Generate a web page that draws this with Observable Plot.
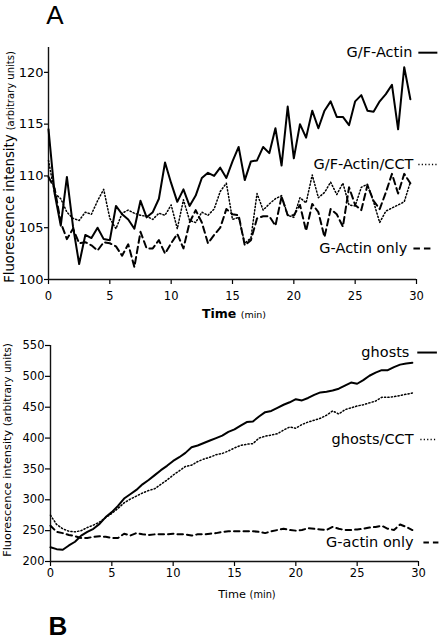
<!DOCTYPE html>
<html>
<head>
<meta charset="utf-8">
<script src="https://cdn.jsdelivr.net/npm/d3@7"></script>
<script src="https://cdn.jsdelivr.net/npm/@observablehq/plot@0.6"></script>
<style>
html,body{margin:0;padding:0;background:#fff;}
#chart{width:440px;}
#chart svg{display:block;}
</style>
</head>
<body>
<div id="chart"></div>
<script>
// ---- data ----
const timesMin = [0,0.5,1,1.5,2,2.5,3,3.5,4,4.5,5,5.5,6,6.5,7,7.5,8,8.5,9,9.5,
  10,10.5,11,11.5,12,12.5,13,13.5,14,14.5,15,15.5,16,16.5,17,17.5,18,18.5,19,19.5,
  20,20.5,21,21.5,22,22.5,23,23.5,24,24.5,25,25.5,26,26.5,27,27.5,28,28.5,29,29.5];
const xTicks = [0,5,10,15,20,25,30];
const yTicksA = [100,105,110,115,120];
const yTicksB = [200,250,300,350,400,450,500,550];
const namesA = ["G/F-Actin","G/F-Actin/CCT","G-Actin only"];
const namesB = ["ghosts","ghosts/CCT","G-actin only"];

// Panel A
const gfActin = [114.5,108.3,105.2,109.9,105.1,101.5,104.3,104.0,105.0,103.9,
  103.8,107.1,106.3,105.8,104.9,107.6,106.0,106.5,107.8,111.3,
  109.3,107.5,108.7,107.1,108.1,109.8,110.3,110.0,110.8,109.8,
  111.4,112.8,109.6,111.4,111.5,112.8,112.2,114.6,111.0,116.7,
  111.7,115.0,113.7,116.3,114.6,116.3,117.2,115.7,115.7,114.9,
  117.2,117.8,116.3,116.2,117.2,117.9,118.8,114.5,120.5,117.4];
const gfActinCCT = [111.5,108.3,107.8,106.5,105.9,105.7,106.5,106.3,107.6,108.7,
  105.9,104.9,106.4,106.7,106.4,106.2,106.1,105.8,106.4,106.2,
  107.2,104.9,107.7,105.7,105.5,106.5,106.2,106.8,108.5,109.3,
  105.8,106.0,103.5,104.0,108.3,106.7,107.3,107.8,108.1,106.2,
  106.0,107.9,107.4,110.1,107.9,108.4,109.4,108.2,109.3,107.2,
  107.1,108.9,109.2,107.5,105.5,106.6,106.9,107.2,107.5,109.4];
const gActinA = [109.9,108.8,105.5,103.9,104.9,103.5,103.6,103.3,102.8,103.6,
  103.5,103.2,102.3,103.4,101.2,104.6,103.0,103.0,103.8,102.5,
  103.5,104.4,103.0,105.5,106.7,105.5,103.5,104.3,105.0,106.8,
  106.3,106.2,103.3,103.8,105.9,106.1,106.1,105.2,108.0,106.2,
  106.2,107.2,104.7,107.3,106.5,104.1,106.8,106.3,105.1,108.9,
  107.2,106.7,109.1,107.6,106.8,108.4,110.2,108.3,110.2,109.3];

// Panel B
const ghosts = [223,220,219,226,232,242,248,253,261,272,
  280,290,302,309,316,325,332,340,348,355,
  363,369,376,385,388,392,396,400,404,410,
  414,420,426,427,435,442,444,449,454,458,
  463,461,465,470,474,475,477,480,485,490,
  488,494,501,506,510,510,515,519,521,522];
const ghostsCCT = [275,260,253,249,248,250,255,259,264,271,
  278,286,295,301,306,311,315,318,325,332,
  340,347,354,356,362,366,369,373,375,379,
  384,388,390,391,400,403,405,407,413,418,
  416,422,426,429,432,437,444,439,446,449,
  452,454,457,460,466,466,467,469,471,473];
const gActinB = [258,248,246,243,241,238,238,240,241,240,
  238,238,245,242,246,244,243,244,244,244,
  245,244,244,242,244,244,245,246,248,249,
  249,249,249,249,248,246,249,251,253,251,
  250,251,254,253,252,251,256,253,251,251,
  252,253,255,256,258,253,251,260,256,251];

// ---- styles ----
const FONT = "'DejaVu Sans', Verdana, sans-serif";
const SOLID = {strokeWidth: 2};
const DOTTED = {strokeWidth: 1.5, strokeDasharray: "1.2,2.2"};
const DASHED = {strokeWidth: 2, strokeDasharray: "6.5,4"};
const DASHED_B = {strokeWidth: 2, strokeDasharray: "5.5,4"};

function legendEntry(label, y, xText, x1, x2, style, fontSize) {
  return [
    Plot.text([label], {x: xText, y: y, text: d => d, textAnchor: "end", lineAnchor: "middle", fontSize, fill: "#000"}),
    Plot.link([label], {x1: x1, x2: x2, y1: y, y2: y, stroke: "#000", ...style})
  ];
}

function addLabels(svg, o) {
  const s = d3.select(svg);
  const yl = s.append("text")
    .attr("transform", `translate(${o.yx},${o.yy}) rotate(-90)`)
    .attr("text-anchor", "middle").attr("fill", "#000")
    .style("font-family", FONT);
  yl.append("tspan").style("font-size", o.ySize + "px").text("Fluorescence intensity ");
  yl.append("tspan").style("font-size", o.ySmall + "px").text("(arbitrary units)");
  const xl = s.append("text")
    .attr("x", o.xx).attr("y", o.xy)
    .attr("text-anchor", "middle").attr("fill", "#000")
    .style("font-family", FONT);
  xl.append("tspan").style("font-size", o.xSize + "px").style("font-weight", o.xBold ? "bold" : "normal").text("Time ");
  xl.append("tspan").style("font-size", o.xSmall + "px").text("(min)");
  s.append("text").attr("x", o.lx).attr("y", o.ly)
    .attr("fill", "#000")
    .style("font-family", "'Liberation Sans', Arial, sans-serif")
    .style("font-size", o.lSize + "px")
    .style("font-weight", o.lBold ? "bold" : "normal")
    .text(o.letter);
}

// ---- Panel A ----
const plotA = Plot.plot({
  width: 440, height: 330,
  marginTop: 47, marginBottom: 51, marginLeft: 48, marginRight: 24,
  style: {fontFamily: FONT, fontSize: "13px", color: "#000", background: "#fff", overflow: "visible"},
  x: {domain: [0, 30], label: null},
  y: {domain: [100, 122.4], label: null},
  marks: [
    Plot.axisY({ticks: yTicksA, tickSize: 4, tickPadding: 1, fontSize: 13, label: null, strokeWidth: 1.2}),
    Plot.axisX({ticks: xTicks, tickSize: 5, tickPadding: 7, fontSize: 11.5, label: null, strokeWidth: 1.2}),
    Plot.ruleX([0], {stroke: "#111", strokeWidth: 1.4}),
    Plot.ruleY([100], {stroke: "#111", strokeWidth: 1.4}),
    Plot.line(gActinA, {x: timesMin, y: gActinA, stroke: "#000", ...DASHED}),
    Plot.line(gfActinCCT, {x: timesMin, y: gfActinCCT, stroke: "#000", ...DOTTED}),
    Plot.line(gfActin, {x: timesMin, y: gfActin, stroke: "#000", ...SOLID}),
    ...legendEntry(namesA[0], 121.9, 29.67, 30.15, 31.7, SOLID, 14.5),
    ...legendEntry(namesA[1], 111.1, 29.75, 30.15, 31.7, DOTTED, 14.5),
    ...legendEntry(namesA[2], 103.0, 29.25, 29.75, 31.3, DASHED, 14.5)
  ]
});
addLabels(plotA, {yx: 13.5, yy: 167, ySize: 13.2, ySmall: 10,
  xx: 234, xy: 318, xSize: 12.5, xSmall: 9.5, xBold: true,
  lx: 55, ly: 23.5, lSize: 26, lBold: false, letter: "A"});

// ---- Panel B ----
const plotB = Plot.plot({
  width: 440, height: 311,
  marginTop: 15, marginBottom: 80, marginLeft: 50, marginRight: 22,
  style: {fontFamily: FONT, fontSize: "11.5px", color: "#000", background: "#fff", overflow: "visible"},
  x: {domain: [0, 30], label: null},
  y: {domain: [200, 550], label: null},
  marks: [
    Plot.axisY({ticks: yTicksB, tickSize: 5, tickPadding: 1, fontSize: 11.5, label: null, strokeWidth: 1.2}),
    Plot.axisX({ticks: xTicks, tickSize: 5, tickPadding: 2, fontSize: 11.5, label: null, strokeWidth: 1.2}),
    Plot.ruleX([0], {stroke: "#111", strokeWidth: 1.4}),
    Plot.ruleY([200], {stroke: "#111", strokeWidth: 1.4}),
    Plot.line(gActinB, {x: timesMin, y: gActinB, stroke: "#000", ...DASHED_B}),
    Plot.line(ghostsCCT, {x: timesMin, y: ghostsCCT, stroke: "#000", ...DOTTED}),
    Plot.line(ghosts, {x: timesMin, y: ghosts, stroke: "#000", ...SOLID}),
    ...legendEntry(namesB[0], 538.6, 29.26, 29.9, 31.5, SOLID, 14.5),
    ...legendEntry(namesB[1], 397.7, 29.6, 30.15, 31.5, DOTTED, 14.5),
    ...legendEntry(namesB[2], 230.8, 29.6, 30.4, 31.8, DASHED_B, 14.5)
  ]
});
addLabels(plotB, {yx: 11, yy: 120, ySize: 11.3, ySmall: 10.5,
  xx: 247, xy: 268, xSize: 11.3, xSmall: 9.8, xBold: false,
  lx: 58, ly: 305, lSize: 26, lBold: true, letter: "B"});

document.getElementById("chart").append(plotA, plotB);
</script>
</body>
</html>
